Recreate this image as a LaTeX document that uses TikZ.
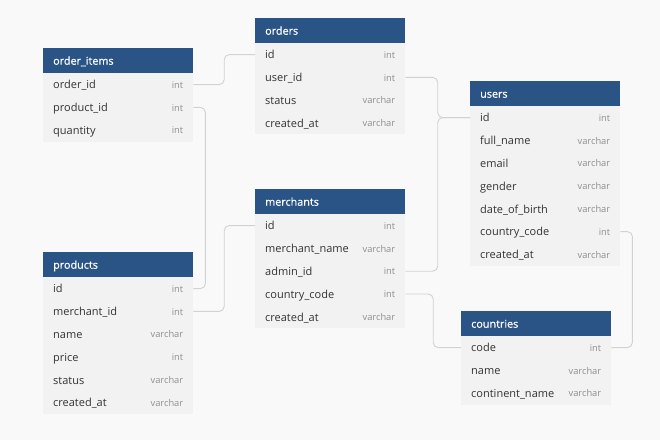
\documentclass[tikz,border=0pt]{standalone}
\usepackage{fontspec}
\setmainfont{Open Sans}
\newfontfamily\hdrfont[FakeBold=0.6]{Open Sans}
\usetikzlibrary{calc}
\definecolor{hdr}{HTML}{2B5486}
\definecolor{bodyc}{HTML}{F2F2F2}
\definecolor{bgc}{HTML}{F9F9F9}
\definecolor{conc}{HTML}{D2D2D2}
\definecolor{namec}{HTML}{333333}
\definecolor{typec}{HTML}{8E8E8E}
\tikzset{
  hdrbox/.style={fill=hdr, draw=none, minimum width=150pt, minimum height=25pt, inner sep=0pt},
  hdrtext/.style={text=white, font=\hdrfont\fontsize{10.8}{12}\selectfont, inner sep=0pt},
  rowbox/.style={fill=bodyc, draw=none, minimum width=150pt, minimum height=22.8pt, inner sep=0pt},
  nametext/.style={text=namec, font=\fontsize{11}{13}\selectfont, inner sep=0pt},
  typetext/.style={text=typec, font=\fontsize{9.3}{11}\selectfont, inner sep=0pt},
  conn/.style={draw=conc, line width=0.9pt, rounded corners=5pt},
}
\newcommand\erTable[5]{%
  \node[hdrbox, anchor=north west] (#1) at (#2,#3) {};
  \node[hdrtext, anchor=base west] (#1-title) at ($(#1.west)+(10,4)$) {#4};
  \foreach [count=\i] \n/\t in {#5} {
    \node[rowbox, anchor=north west] (#1-\i) at ($(#2,#3)+(0,{25+(\i-1)*22.8})$) {};
    \node[nametext, anchor=base west] (#1-\i-n) at ($(#1-\i.west)+(10,4.2)$) {\n};
    \node[typetext, anchor=base east] (#1-\i-t) at ($(#1-\i.east)+(-10,3.6)$) {\t};
  }
}
\begin{document}
\begin{tikzpicture}[x=1pt, y=-1pt]
  \fill[bgc] (0,0) rectangle (660,440);
  \useasboundingbox (0,0) rectangle (660,440);

  \erTable{oi}{43}{48}{order\_items}{order\_id/int, product\_id/int, quantity/int}
  \erTable{ord}{255}{18}{orders}{id/int, user\_id/int, status/varchar, created\_at/varchar}
  \erTable{usr}{470}{81}{users}{id/int, full\_name/varchar, email/varchar, gender/varchar, date\_of\_birth/varchar, country\_code/int, created\_at/varchar}
  \erTable{mer}{255}{189}{merchants}{id/int, merchant\_name/varchar, admin\_id/int, country\_code/int, created\_at/varchar}
  \erTable{prd}{43}{252}{products}{id/int, merchant\_id/int, name/varchar, price/int, status/varchar, created\_at/varchar}
  \erTable{cty}{461}{311}{countries}{code/int, name/varchar, continent\_name/varchar}

  % connectors
  \draw[conn] (oi-1.east) -| ($(oi-1.east)!0.5!(ord-1.west)$) |- (ord-1.west);
  \draw[conn] (oi-2.east) -- ++(12,0) |- (prd-1.east);
  \draw[conn] (prd-2.east) -| ($(prd-2.east)!0.5!(mer-1.west)$) |- (mer-1.west);
  \draw[conn] (ord-2.east) -| ($(ord-2.east)!0.5!(usr-1.west)$) |- (usr-1.west);
  \draw[conn] (mer-3.east) -| ($(mer-3.east)!0.5!(usr-1.west)$) |- (usr-1.west);
  \draw[conn] (mer-4.east) -| ($(mer-4.east)!0.5!(cty-1.west)$) |- (cty-1.west);
  \draw[conn] (usr-6.east) -- ++(12,0) |- (cty-1.east);
\end{tikzpicture}
\end{document}
